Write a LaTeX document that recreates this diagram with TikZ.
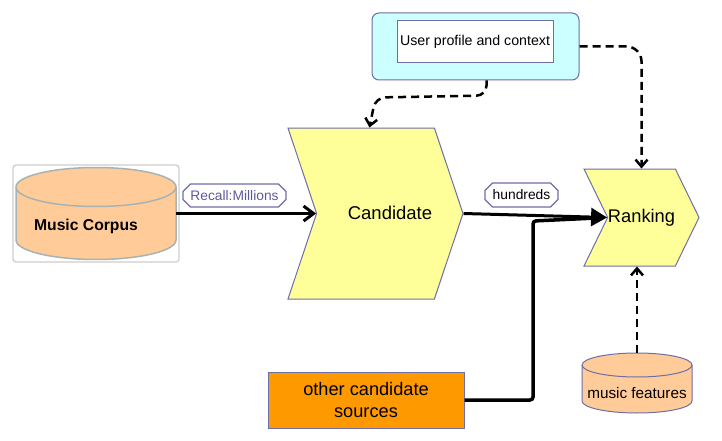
\documentclass[tikz,border=0pt]{standalone}
\usepackage{fontspec}
\setmainfont{Liberation Sans}
\usepackage{tikz}
\usetikzlibrary{arrows.meta,calc,shapes.symbols,shapes.misc}
\definecolor{stepyellow}{HTML}{FFFF99}
\definecolor{edgeblue}{HTML}{6E6EA6}
\definecolor{profilecyan}{HTML}{CCFFFF}
\definecolor{sourceorange}{HTML}{FF9900}
\definecolor{corpuspeach}{HTML}{FFCC99}
\definecolor{corpusgray}{HTML}{A9B2B2}
\definecolor{boxgray}{HTML}{CDCDCD}
\definecolor{tagtext}{HTML}{5C5C9C}

\begin{document}
\begin{tikzpicture}[x=1pt,y=1pt,
  stage/.style={signal,signal from=west,signal to=east,draw=edgeblue,fill=stepyellow,line width=1pt,inner sep=0pt},
  tag/.style={chamfered rectangle,chamfered rectangle xsep=4pt,draw=edgeblue,fill=white,line width=1.2pt,inner sep=1pt,font=\fontsize{13.8}{16}\selectfont},
  flow/.style={line width=3pt,-{Straight Barb[length=10pt,width=15pt]}},
  dashflow/.style={line width=2.5pt,dash pattern=on 8pt off 5pt,-{Straight Barb[length=7pt,width=12pt]}}]
  \useasboundingbox (0,0) rectangle (722,-441);
  % music corpus store
  \draw[boxgray,line width=1.2pt,rounded corners=3pt] (13,-165) rectangle (179,-262);
  \filldraw[fill=corpuspeach,draw=corpusgray,line width=1.5pt] (16,-187) -- (16,-240) arc[start angle=180,end angle=360,x radius=80,y radius=19.5] -- (176,-187) arc[start angle=0,end angle=180,x radius=80,y radius=19.5] -- cycle;
  \draw[corpusgray,line width=1.5pt] (16,-187) arc[start angle=180,end angle=360,x radius=80,y radius=19.5];
  \node[minimum width=160pt,minimum height=91pt,inner sep=0pt] (corpus) at (96,-213.5) {};
  \node[font=\bfseries\fontsize{15.7}{18}\selectfont] (corpustxt) at (86,-226) {Music Corpus};
  % music features store
  \filldraw[fill=corpuspeach,draw=edgeblue,line width=1pt] (582,-365) -- (582,-401) arc[start angle=180,end angle=360,x radius=55,y radius=12] -- (692,-365) arc[start angle=0,end angle=180,x radius=55,y radius=12] -- cycle;
  \draw[edgeblue,line width=1pt] (582,-365) arc[start angle=180,end angle=360,x radius=55,y radius=12];
  \node[minimum width=110pt,minimum height=60pt,inner sep=0pt] (feat) at (637,-383) {};
  \node[font=\fontsize{15.3}{17}\selectfont] (feattxt) at (637,-393) {music features};
  % stages
  \node[stage,minimum width=175pt,minimum height=171pt,signal pointer angle=143] (cand) at (375.5,-213.5) {};
  \node[font=\fontsize{18.5}{22}\selectfont] (candtxt) at (390,-213) {Candidate};
  \node[stage,minimum width=115pt,minimum height=97pt,signal pointer angle=128,font=\fontsize{18.3}{22}\selectfont] (rank) at (641.5,-217.5) {Ranking};
  % user profile
  \node[draw=edgeblue,fill=profilecyan,rounded corners=7pt,line width=1pt,minimum width=207pt,minimum height=67pt] (user) at (475.5,-46.5) {};
  \node[draw=edgeblue,fill=white,line width=1pt,inner sep=0pt,minimum width=156pt,minimum height=42pt,font=\fontsize{14.2}{16}\selectfont] (usertxt) at (475,-42) {User profile and context};
  % other sources
  \node[draw=edgeblue,fill=sourceorange,line width=1pt,minimum width=196pt,minimum height=56pt,align=center,font=\fontsize{18.2}{22}\selectfont] (other) at (366,-400) {other candidate\\sources};
  % connectors
  \draw[flow] (corpus.east) -- (cand.west);
  \node[tag,text=tagtext,minimum width=103pt,minimum height=23pt] (recall) at (234.5,-195.5) {Recall:Millions};
  \draw[line width=3pt,-{Triangle[length=16pt,width=18pt]}] (cand.east) -- (rank.west);
  \coordinate (merge) at (533,-221);
  \draw[line width=3.5pt,rounded corners=3pt,shorten >=8pt] (other.east) -| (merge) -- (rank.west);
  \node[tag,minimum width=73pt,minimum height=24pt] (hund) at (521.5,-195) {hundreds};
  \draw[dashflow,rounded corners=10pt] ([xshift=11pt]user.south) -- ++(0,-15) -- ($(cand.north)+(0,30)$) -- ([xshift=-6pt]cand.north);
  \draw[dashflow,rounded corners=15pt] (user.east) -| (rank.north);
  \draw[dashflow] (feat.north) -- (feat.north |- rank.south);
\end{tikzpicture}
\end{document}
